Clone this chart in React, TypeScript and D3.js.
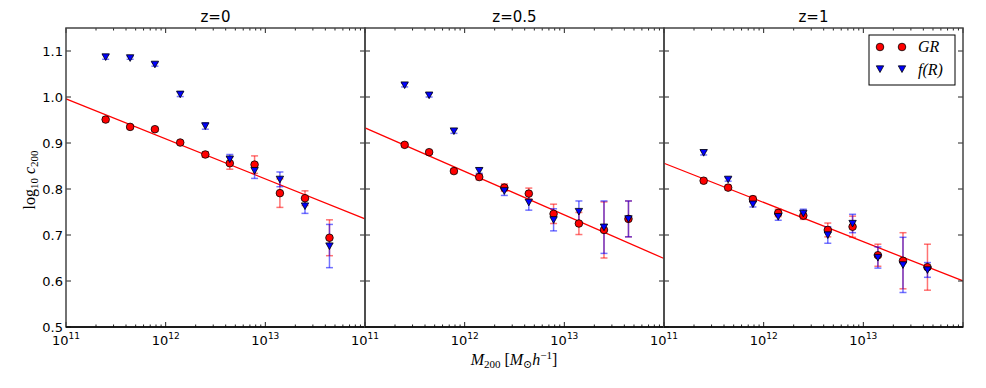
import React from 'react';
import * as d3 from 'd3';

const W = 986;
const H = 388;

// halo mass bins (same in every panel)
const massBins = [2.5e11, 4.4e11, 7.8e11, 1.4e12, 2.5e12, 4.4e12, 7.8e12, 1.4e13, 2.5e13, 4.4e13];

const panelTitles = ['z=0', 'z=0.5', 'z=1'];

// log10 c200, GR
const grValues = [
  [0.951, 0.935, 0.930, 0.901, 0.875, 0.856, 0.853, 0.791, 0.780, 0.694],
  [0.896, 0.880, 0.839, 0.826, 0.803, 0.790, 0.746, 0.725, 0.711, 0.735],
  [0.818, 0.803, 0.778, 0.748, 0.742, 0.711, 0.718, 0.656, 0.644, 0.630],
];
const grErrors = [
  [0.005, 0.004, 0.004, 0.004, 0.006, 0.013, 0.019, 0.031, 0.016, 0.039],
  [0.004, 0.004, 0.005, 0.006, 0.008, 0.012, 0.021, 0.024, 0.061, 0.039],
  [0.005, 0.005, 0.006, 0.008, 0.008, 0.015, 0.023, 0.024, 0.061, 0.050],
];

// log10 c200, f(R)
const frValues = [
  [1.087, 1.085, 1.071, 1.006, 0.937, 0.865, 0.840, 0.821, 0.763, 0.676],
  [1.026, 1.004, 0.926, 0.840, 0.796, 0.771, 0.733, 0.751, 0.717, 0.735],
  [0.879, 0.821, 0.767, 0.740, 0.747, 0.700, 0.725, 0.651, 0.635, 0.624],
];
const frErrors = [
  [0.005, 0.003, 0.004, 0.005, 0.007, 0.010, 0.017, 0.016, 0.016, 0.047],
  [0.004, 0.004, 0.005, 0.006, 0.010, 0.017, 0.024, 0.023, 0.057, 0.039],
  [0.005, 0.004, 0.006, 0.008, 0.009, 0.018, 0.020, 0.023, 0.060, 0.016],
];

// GR fit: value at 1e11 and slope per dex
const fitIntercept = [0.996, 0.933, 0.856];
const fitSlope = [-0.087, -0.0947, -0.0853];

const yTicks = [0.5, 0.6, 0.7, 0.8, 0.9, 1.0, 1.1];
const xMajor = [1e11, 1e12, 1e13, 1e14];
const xLabelExp = ['11', '12', '13'];

const top = 28;
const bottom = 327;
const panelLeft = [66, 365, 664];
const panelW = 299;
const frame = '#444';

const RED = '#ff0000';
const BLUE = '#0000ff';
const R = 3.8;
const T = 3.7;

const tri = (cx, cy, s) =>
  `M${cx - s},${cy - s * 0.85}L${cx + s},${cy - s * 0.85}L${cx},${cy + s * 0.95}Z`;

function ErrBars({ x, y, vals, errs, color }) {
  return (
    <g stroke={color} strokeOpacity={0.55} strokeWidth={1.5}>
      {vals.map((v, i) => {
        const cx = x(massBins[i]);
        const y1 = y(v + errs[i]);
        const y2 = y(v - errs[i]);
        return (
          <g key={i}>
            <line x1={cx} x2={cx} y1={y1} y2={y2} />
            <line x1={cx - 3.5} x2={cx + 3.5} y1={y1} y2={y1} />
            <line x1={cx - 3.5} x2={cx + 3.5} y1={y2} y2={y2} />
          </g>
        );
      })}
    </g>
  );
}

function Panel({ p }) {
  const left = panelLeft[p];
  const x = d3.scaleLog().domain([1e11, 1e14]).range([left, left + panelW]);
  const y = d3.scaleLinear().domain([0.5, 1.15]).range([bottom, top]);

  const fitPts = [1e11, 1e14].map((m) => [m, fitIntercept[p] + fitSlope[p] * (Math.log10(m) - 11)]);
  const fitLine = d3.line().x((d) => x(d[0])).y((d) => y(d[1]))(fitPts);

  const minor = [];
  for (let e = 11; e < 14; e++) for (let k = 2; k <= 9; k++) minor.push(k * Math.pow(10, e));

  return (
    <g>
      <text x={left + panelW / 2} y={22} textAnchor="middle" fontSize={15}
        fontFamily="DejaVu Sans, sans-serif">{panelTitles[p]}</text>

      <path d={fitLine} stroke={RED} strokeWidth={1.3} fill="none" />

      <ErrBars x={x} y={y} vals={grValues[p]} errs={grErrors[p]} color={RED} />
      <ErrBars x={x} y={y} vals={frValues[p]} errs={frErrors[p]} color={BLUE} />

      {grValues[p].map((v, i) => (
        <circle key={'g' + i} cx={x(massBins[i])} cy={y(v)} r={R} fill={RED} stroke="#000" strokeWidth={0.8} />
      ))}
      {frValues[p].map((v, i) => (
        <path key={'f' + i} d={tri(x(massBins[i]), y(v), T)} fill={BLUE} stroke="#000" strokeWidth={0.8} />
      ))}

      {/* ticks */}
      <g stroke="#222" strokeWidth={1}>
        {xMajor.map((m, i) => (
          <g key={'M' + i}>
            <line x1={x(m)} x2={x(m)} y1={bottom} y2={bottom - 5} />
            <line x1={x(m)} x2={x(m)} y1={top} y2={top + 5} />
          </g>
        ))}
        {minor.map((m, i) => (
          <g key={'m' + i}>
            <line x1={x(m)} x2={x(m)} y1={bottom} y2={bottom - 2.5} />
            <line x1={x(m)} x2={x(m)} y1={top} y2={top + 2.5} />
          </g>
        ))}
        {yTicks.map((t, i) => (
          <g key={'y' + i}>
            <line x1={left} x2={left + 5} y1={y(t)} y2={y(t)} />
            <line x1={left + panelW} x2={left + panelW - 5} y1={y(t)} y2={y(t)} />
          </g>
        ))}
      </g>

      <rect x={left} y={top} width={panelW} height={bottom - top} fill="none" stroke={frame} strokeWidth={1.5} />
      <line x1={left} x2={left + panelW} y1={bottom} y2={bottom} stroke="#000" strokeWidth={1.5} />

      {xLabelExp.map((e, i) => (
        <text key={'xl' + i} x={x(xMajor[i])} y={345} textAnchor="middle" fontSize={13}
          fontFamily="DejaVu Sans, sans-serif">
          10<tspan dy={-6.5} fontSize={9}>{e}</tspan>
        </text>
      ))}

      {p === 0 &&
        yTicks.map((t, i) => (
          <text key={'yl' + i} x={left - 3} y={y(t) + 4.5} textAnchor="end" fontSize={13}
            fontFamily="DejaVu Sans, sans-serif">{t.toFixed(1)}</text>
        ))}
    </g>
  );
}

export default function App() {
  const serif = 'Liberation Serif, DejaVu Serif, serif';
  return (
    <svg width={W} height={H} style={{ position: 'absolute', left: 0, top: 0, background: '#fff' }}>
      <rect width={W} height={H} fill="#fff" />
      {[0, 1, 2].map((p) => <Panel key={p} p={p} />)}

      {/* y axis label */}
      <text transform="translate(35,180) rotate(-90)" textAnchor="middle" fontSize={16} fontFamily={serif}>
        log<tspan dy={3} fontSize={11}>10</tspan>
        <tspan dy={-3}> </tspan>
        <tspan fontStyle="italic">c</tspan>
        <tspan dy={3} fontSize={11}>200</tspan>
      </text>

      {/* x axis label */}
      <text x={514} y={365} textAnchor="middle" fontSize={16} fontFamily={serif}>
        <tspan fontStyle="italic">M</tspan>
        <tspan dy={3} fontSize={11}>200</tspan>
        <tspan dy={-3}> [</tspan>
        <tspan fontStyle="italic">M</tspan>
        <tspan dy={3} fontSize={11}>⊙</tspan>
        <tspan dy={-3} fontStyle="italic">h</tspan>
        <tspan dy={-6} fontSize={11}>−1</tspan>
        <tspan dy={6}>]</tspan>
      </text>

      {/* legend */}
      <g>
        <rect x={869} y={35} width={86} height={50} fill="#fff" stroke="#000" strokeWidth={1} />
        <circle cx={880} cy={47} r={R} fill={RED} stroke="#000" strokeWidth={0.8} />
        <circle cx={902} cy={47} r={R} fill={RED} stroke="#000" strokeWidth={0.8} />
        <text x={918} y={52} fontSize={16} fontStyle="italic" fontFamily={serif}>GR</text>
        <path d={tri(880, 69, T)} fill={BLUE} stroke="#000" strokeWidth={0.8} />
        <path d={tri(902, 69, T)} fill={BLUE} stroke="#000" strokeWidth={0.8} />
        <text x={918} y={75} fontSize={16} fontStyle="italic" fontFamily={serif}>f(R)</text>
      </g>
    </svg>
  );
}
